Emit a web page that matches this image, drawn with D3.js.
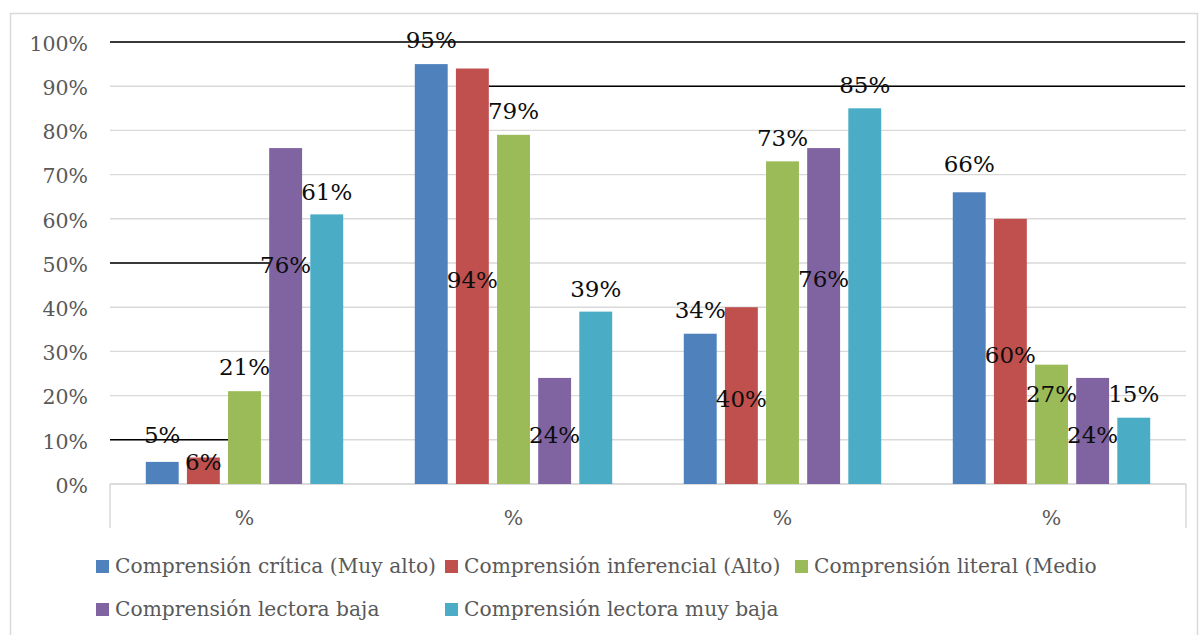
<!DOCTYPE html>
<html>
<head>
<meta charset="utf-8">
<script src="https://cdn.jsdelivr.net/npm/d3@7"></script>
<style>
  html, body { margin: 0; padding: 0; background: #fff; }
  svg { display: block; }
  text { font-family: "DejaVu Serif", serif; }
</style>
</head>
<body>
<svg id="chart" width="1200" height="635"></svg>
<script>
// ---- data ----
const categories = ["%", "%", "%", "%"];
const series = [
  "Comprensión crítica (Muy alto)",
  "Comprensión inferencial (Alto)",
  "Comprensión literal (Medio",
  "Comprensión lectora baja",
  "Comprensión lectora muy baja"
];
const colors = ["#4F81BD", "#C0504D", "#9BBB59", "#8064A2", "#4BACC6"];
const critica    = [5, 95, 34, 66];
const inferencial = [6, 94, 40, 60];
const literal    = [21, 79, 73, 27];
const baja       = [76, 24, 76, 24];
const muyBaja    = [61, 39, 85, 15];
const values = [critica, inferencial, literal, baja, muyBaja];
// value (in % units) at which each data label sits, as in the source picture
const labelAtCritica     = [9.3, 98.6, 37.6, 70.6];
const labelAtInferencial = [3.2, 44.3, 17.5, 27.4];
const labelAtLiteral     = [24.7, 82.6, 76.5, 18.6];
const labelAtBaja        = [47.7, 9.3, 44.6, 9.3];
const labelAtMuyBaja     = [64.3, 42.4, 88.5, 18.6];
const labelAt = [labelAtCritica, labelAtInferencial, labelAtLiteral, labelAtBaja, labelAtMuyBaja];
const yTicks = [0, 10, 20, 30, 40, 50, 60, 70, 80, 90, 100];

// ---- layout ----
const svg = d3.select("#chart");
const plot = { left: 110, right: 1186, top: 42, bottom: 484 };

const x0 = d3.scaleBand().domain(d3.range(categories.length)).range([plot.left, plot.right]);
const x1 = d3.scaleBand().domain(d3.range(series.length)).range([0, x0.bandwidth()])
  .paddingInner(0.2).paddingOuter(0.87);
const y = d3.scaleLinear().domain([0, 100]).range([plot.bottom, plot.top]);

// outer border
svg.append("rect").attr("x", 10.5).attr("y", 13.5).attr("width", 1187).attr("height", 640)
  .attr("fill", "none").attr("stroke", "#d9d9d9").attr("stroke-width", 1.5);

// gridlines
svg.append("g").selectAll("line").data(yTicks).join("line")
  .attr("x1", plot.left).attr("x2", plot.right)
  .attr("y1", d => y(d)).attr("y2", d => y(d))
  .attr("stroke", "#d9d9d9").attr("stroke-width", 1.4);

// y axis labels
const yAxis = d3.axisLeft(y).tickValues(yTicks).tickFormat(d => d + "%").tickSize(0).tickPadding(0);
const gy = svg.append("g").attr("transform", `translate(88,0)`).call(yAxis);
gy.select(".domain").remove();
gy.selectAll("text").attr("font-family", "DejaVu Serif").attr("font-size", 20.5)
  .attr("fill", "#595959").attr("dy", "0.4em");

// x axis
const xAxis = d3.axisBottom(x0).tickFormat(i => categories[i]).tickSize(0).tickPadding(0);
const gx = svg.append("g").attr("transform", `translate(0,${plot.bottom})`).call(xAxis);
gx.select(".domain").remove();
gx.selectAll("text").attr("font-family", "DejaVu Serif").attr("font-size", 20.5)
  .attr("fill", "#595959").attr("y", 41).attr("dy", 0);
svg.append("line").attr("x1", plot.left).attr("x2", plot.right)
  .attr("y1", plot.bottom).attr("y2", plot.bottom).attr("stroke", "#d9d9d9").attr("stroke-width", 1.5);
[plot.left, plot.right].forEach(xv => {
  svg.append("line").attr("x1", xv).attr("x2", xv).attr("y1", plot.bottom).attr("y2", plot.bottom + 44)
    .attr("stroke", "#d9d9d9").attr("stroke-width", 1.5);
});

// black rule segments (as seen in the source)
const barX = (c, s) => x0(c) + x1(s);
const rules = [
  { v: 100, a: plot.left, b: plot.right - 1 },
  { v: 90, a: barX(1, 1) + x1.bandwidth(), b: plot.right - 1 },
  { v: 50, a: plot.left, b: barX(0, 3) + 1 },
  { v: 10, a: plot.left, b: barX(0, 2) }
];
svg.append("g").selectAll("line").data(rules).join("line")
  .attr("x1", d => d.a).attr("x2", d => d.b)
  .attr("y1", d => y(d.v)).attr("y2", d => y(d.v))
  .attr("stroke", "#000").attr("stroke-width", 1.6);

// bars
const groups = svg.append("g").selectAll("g").data(series).join("g")
  .attr("fill", (d, i) => colors[i]);
groups.each(function(name, s) {
  d3.select(this).selectAll("rect").data(values[s]).join("rect")
    .attr("x", (d, c) => barX(c, s))
    .attr("width", x1.bandwidth())
    .attr("y", d => y(d))
    .attr("height", d => y(0) - y(d));
});

// data labels
const lab = svg.append("g");
series.forEach((name, s) => {
  lab.selectAll(null).data(values[s]).join("text")
    .attr("x", (d, c) => barX(c, s) + x1.bandwidth() / 2)
    .attr("y", (d, c) => y(labelAt[s][c]))
    .attr("text-anchor", "middle")
    .attr("font-family", "DejaVu Serif").attr("font-size", 23)
    .attr("fill", "#0d0d0d")
    .text(d => d + "%");
});

// legend
const legendPos = [[96, 560], [445, 560], [795, 560], [96, 603], [445, 603]];
const leg = svg.append("g");
let k = 1;
series.forEach((name, i) => {
  const [lx, ly] = legendPos[i];
  leg.append("rect").attr("x", lx).attr("y", ly).attr("width", 13).attr("height", 13).attr("fill", colors[i]);
  const t = leg.append("text").attr("transform", `translate(${lx + 19},${ly + 13})`)
    .attr("font-family", "DejaVu Serif").attr("font-size", 20.5).attr("fill", "#595959").text(name);
  if (i === 0) k = 321 / t.node().getComputedTextLength();
  t.attr("transform", `translate(${lx + 19},${ly + 13}) scale(${k},1)`);
});
</script>
</body>
</html>
